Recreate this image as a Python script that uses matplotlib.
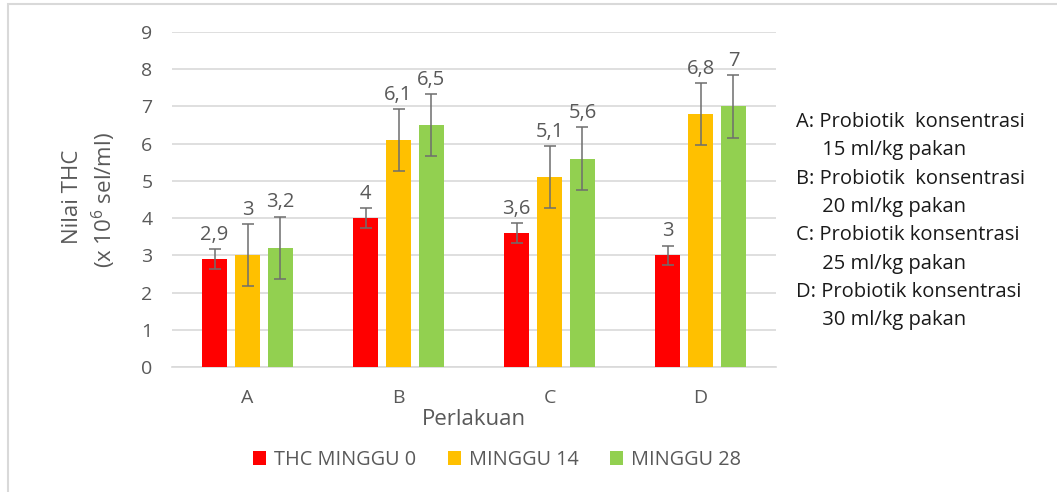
import matplotlib
matplotlib.use("Agg")
import matplotlib.pyplot as plt
import numpy as np
from matplotlib.patches import Rectangle, Patch

categories = ["A", "B", "C", "D"]
series_names = ["THC MINGGU 0", "MINGGU 14", "MINGGU 28"]
minggu0 = [2.9, 4.0, 3.6, 3.0]
minggu14 = [3.0, 6.1, 5.1, 6.8]
minggu28 = [3.2, 6.5, 5.6, 7.0]
err0 = [0.26, 0.26, 0.26, 0.26]
err14 = [0.83, 0.83, 0.83, 0.83]
err28 = [0.84, 0.84, 0.84, 0.84]
labels0 = ["2,9", "4", "3,6", "3"]
labels14 = ["3", "6,1", "5,1", "6,8"]
labels28 = ["3,2", "6,5", "5,6", "7"]
yticks = [0, 1, 2, 3, 4, 5, 6, 7, 8, 9]
notes = ["A: Probiotik  konsentrasi", "     15 ml/kg pakan",
         "B: Probiotik  konsentrasi", "     20 ml/kg pakan",
         "C: Probiotik konsentrasi", "     25 ml/kg pakan",
         "D: Probiotik konsentrasi", "     30 ml/kg pakan"]

colors = ["#FF0000", "#FFC000", "#92D050"]
FONT = 'Open Sans'
plt.rcParams['font.family'] = [FONT, 'DejaVu Sans']
plt.rcParams['mathtext.fontset'] = 'custom'
plt.rcParams['mathtext.rm'] = FONT
plt.rcParams['mathtext.it'] = FONT + ':italic'

W, H = 1057, 492
fig = plt.figure(figsize=(W / 100, H / 100), dpi=100)
ax = fig.add_axes([172 / W, 1 - 367 / H, (776 - 172) / W, (367 - 32) / H])

# outer frame
fig.patches.append(Rectangle((8 / W, -0.05), 1.2, 1 - 4 / H + 0.05, transform=fig.transFigure,
                             fill=False, edgecolor="#d9d9d9", linewidth=1.5))

x = np.arange(len(categories))
step = 0.2185
bw = 0.17
data = [minggu0, minggu14, minggu28]
errs = [err0, err14, err28]
labs = [labels0, labels14, labels28]
for j in range(3):
    xs = x + (j - 1) * step
    ax.bar(xs, data[j], width=bw, color=colors[j], zorder=3, label=series_names[j])
    ax.errorbar(xs, data[j], yerr=errs[j], fmt='none', ecolor="#6e6e6e", elinewidth=1.1,
                capsize=4.5, capthick=1.1, zorder=4)
    for xi, v, e, t in zip(xs, data[j], errs[j], labs[j]):
        ax.annotate(t, (xi, v + e), xytext=(0, 3), textcoords='offset points',
                    ha='center', va='bottom', fontsize=14.5, color="#595959")

ax.set_xlim(-0.5, len(categories) - 0.5)
ax.set_ylim(0, 9)
ax.set_yticks(yticks)
ax.set_yticklabels([str(t) for t in yticks])
ax.set_xticks(x)
ax.set_xticklabels(categories)
ax.tick_params(axis='y', length=0, pad=14, labelsize=14, labelcolor="#595959")
ax.tick_params(axis='x', length=0, pad=16, labelsize=14, labelcolor="#595959")
ax.grid(axis='y', color="#d9d9d9", linewidth=1.2, zorder=0)
for s in ["top", "right", "left"]:
    ax.spines[s].set_visible(False)
ax.spines["bottom"].set_color("#d9d9d9")
ax.spines["bottom"].set_linewidth(1.2)

ax.set_xlabel("Perlakuan", fontsize=16, color="#595959", labelpad=1)

fig.text(72 / W, 1 - 197 / H, "Nilai THC", rotation=90, ha='center', va='center',
         fontsize=16, color="#595959")
fig.text(104 / W, 1 - 200 / H, "(x 10$^{6}$ sel/ml)", rotation=90, ha='center', va='center',
         fontsize=16, color="#595959")

for i, line in enumerate(notes):
    fig.text(796 / W, 1 - (122 + i * 28.3) / H, line, ha='left', va='center',
             fontsize=14.5, color="#1a1a1a")

handles = [Patch(facecolor=c) for c in colors]
fig.legend(handles, series_names, loc='center', bbox_to_anchor=(497 / W, 1 - 460 / H),
           ncol=3, frameon=False, fontsize=14.3, labelcolor="#595959",
           handlelength=0.65, handleheight=0.65, handletextpad=0.4, columnspacing=1.6)

fig.savefig("out.png", dpi=100)
